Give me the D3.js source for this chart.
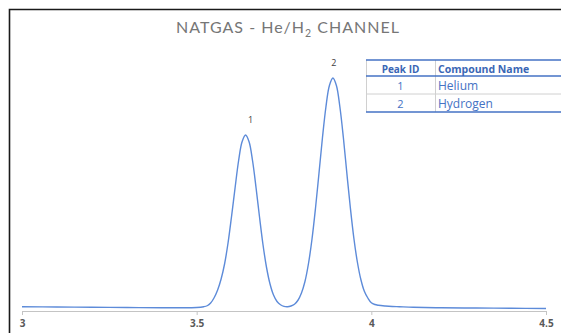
<!DOCTYPE html>
<html>
<head>
<meta charset="utf-8">
<script src="https://cdn.jsdelivr.net/npm/d3@7"></script>
<style>
  html, body { margin: 0; padding: 0; background: #fff; }
  svg { display: block; }
</style>
</head>
<body>
<div id="chart"></div>
<script>
// retention time (min) and detector signal
const retTimes = [3.00, 3.10, 3.20, 3.30, 3.40, 3.45, 3.50, 3.52, 3.53, 3.54, 3.55, 3.56, 3.57, 3.58, 3.59,
  3.60, 3.61, 3.62, 3.63, 3.64, 3.65, 3.66, 3.67, 3.68, 3.69, 3.70, 3.71, 3.72, 3.73, 3.74, 3.75, 3.76,
  3.77, 3.78, 3.79, 3.80, 3.81, 3.82, 3.83, 3.84, 3.85, 3.86, 3.87, 3.88, 3.89, 3.90, 3.91, 3.92, 3.93,
  3.94, 3.95, 3.96, 3.97, 3.98, 3.99, 4.00, 4.01, 4.02, 4.04, 4.06, 4.08, 4.12, 4.20, 4.30, 4.40, 4.50];
const signal = [1.7, 1.6, 1.5, 1.4, 1.3, 1.3, 1.4, 1.7, 2.1, 3.2, 5.3, 8.4, 12.8, 18.9, 27.4,
  38.0, 49.3, 60.1, 67.7, 70.4, 67.7, 60.1, 49.3, 37.5, 26.4, 17.4, 10.8, 6.4, 3.8, 2.5, 1.85, 1.7,
  2.0, 2.7, 4.3, 7.2, 11.8, 18.9, 28.6, 40.9, 54.9, 69.2, 81.6, 90.2, 93.2, 90.2, 81.6, 69.3, 55.0,
  41.2, 29.1, 19.6, 12.6, 7.9, 5.2, 3.3, 2.6, 2.3, 2.0, 1.8, 1.7, 1.5, 1.3, 1.2, 1.1, 1.0];

const xTicks = [3, 3.5, 4, 4.5];

// peak apexes
const peakIds = ["1", "2"];
const peakTimes = [3.64, 3.89];
const peakHeights = [70.4, 93.2];
const compoundNames = ["Helium", "Hydrogen"];

const width = 561, height = 333;

const svg = d3.select("#chart").append("svg")
  .attr("width", width)
  .attr("height", height);

const x = d3.scaleLinear().domain([3, 4.5]).range([22, 546]);
const y = d3.scaleLinear().domain([0, 100]).range([311, 61]);

// outer frame (top and left edges only visible)
svg.append("path")
  .attr("d", "M9.5," + height + "V9.5H" + width)
  .attr("fill", "none")
  .attr("stroke", "#1a1a1a")
  .attr("stroke-width", 1.6);

// title
const title = svg.append("text")
  .attr("x", 288)
  .attr("y", 33)
  .attr("text-anchor", "middle")
  .style("font-family", "Lato, 'Open Sans', sans-serif")
  .style("font-size", "16px")
  .style("letter-spacing", "1px")
  .attr("fill", "#767676");
title.append("tspan").text("NATGAS - He/H");
title.append("tspan").attr("dy", 3.5).style("font-size", "10.5px").text("2");
title.append("tspan").attr("dy", -3.5).text(" CHANNEL");

// x axis
const xAxis = d3.axisBottom(x)
  .tickValues(xTicks)
  .tickFormat(d3.format("~g"))
  .tickSize(4)
  .tickPadding(5);

const gx = svg.append("g")
  .attr("transform", "translate(0,311)")
  .call(xAxis);
gx.select(".domain").attr("stroke", "#c4c4c4");
gx.selectAll(".tick line").attr("stroke", "#c4c4c4");
gx.selectAll(".tick text")
  .attr("fill", "#595959")
  .style("font-family", "'Open Sans', sans-serif")
  .style("font-weight", "700")
  .style("font-size", "10px");

// chromatogram trace
const pts = retTimes.map((t, i) => [t, signal[i]]);
const line = d3.line()
  .x(d => x(d[0]))
  .y(d => y(d[1]))
  .curve(d3.curveCatmullRom.alpha(0.5));

svg.append("path")
  .datum(pts)
  .attr("d", line)
  .attr("fill", "none")
  .attr("stroke", "#5d8bd9")
  .attr("stroke-width", 1.4);

// peak labels
const labelShift = [5, 1];
svg.selectAll(".peak-label")
  .data(peakIds)
  .enter()
  .append("text")
  .attr("class", "peak-label")
  .attr("x", (d, i) => x(peakTimes[i]) + labelShift[i])
  .attr("y", (d, i) => y(peakHeights[i]) - 12)
  .attr("text-anchor", "middle")
  .style("font-family", "'Open Sans', sans-serif")
  .style("font-size", "9px")
  .attr("fill", "#404040")
  .text(d => d);

// peak table
const tbl = svg.append("g").attr("class", "peak-table");
const tLeft = 366, tRight = 561, tDiv = 435;
const rowTop = [60, 76, 94, 112];
const blue = "#4472c4";

// body cell separators
tbl.append("line")
  .attr("x1", tLeft).attr("x2", tRight)
  .attr("y1", rowTop[2]).attr("y2", rowTop[2])
  .attr("stroke", "#d0d0d0");
tbl.append("line")
  .attr("x1", tLeft + 0.5).attr("x2", tLeft + 0.5)
  .attr("y1", rowTop[0]).attr("y2", rowTop[3])
  .attr("stroke", "#d0d0d0");
tbl.append("line")
  .attr("x1", tDiv + 0.5).attr("x2", tDiv + 0.5)
  .attr("y1", rowTop[0]).attr("y2", rowTop[3])
  .attr("stroke", "#d0d0d0");

// blue rules: top, under header, bottom
[rowTop[0], rowTop[1], rowTop[3]].forEach(yy => {
  tbl.append("line")
    .attr("x1", tLeft).attr("x2", tRight)
    .attr("y1", yy).attr("y2", yy)
    .attr("stroke", blue)
    .attr("stroke-width", 1.5);
});

// header
tbl.append("text")
  .attr("x", (tLeft + tDiv) / 2)
  .attr("y", 73)
  .attr("text-anchor", "middle")
  .style("font-family", "'Open Sans', sans-serif")
  .style("font-size", "10px")
  .style("font-weight", "700")
  .attr("fill", "#3a66b5")
  .text("Peak ID");
tbl.append("text")
  .attr("x", tDiv + 3)
  .attr("y", 73)
  .style("font-family", "'Open Sans', sans-serif")
  .style("font-size", "10.5px")
  .style("font-weight", "700")
  .attr("fill", "#3a66b5")
  .text("Compound Name");

// rows
peakIds.forEach((id, i) => {
  tbl.append("text")
    .attr("x", (tLeft + tDiv) / 2)
    .attr("y", rowTop[i + 1] + 14)
    .attr("text-anchor", "middle")
    .style("font-family", "'Open Sans', sans-serif")
    .style("font-size", "11px")
    .attr("fill", blue)
    .text(id);
  tbl.append("text")
    .attr("x", tDiv + 3)
    .attr("y", rowTop[i + 1] + 14)
    .style("font-family", "'Open Sans', sans-serif")
    .style("font-size", "12px")
    .attr("fill", blue)
    .text(compoundNames[i]);
});
</script>
</body>
</html>
